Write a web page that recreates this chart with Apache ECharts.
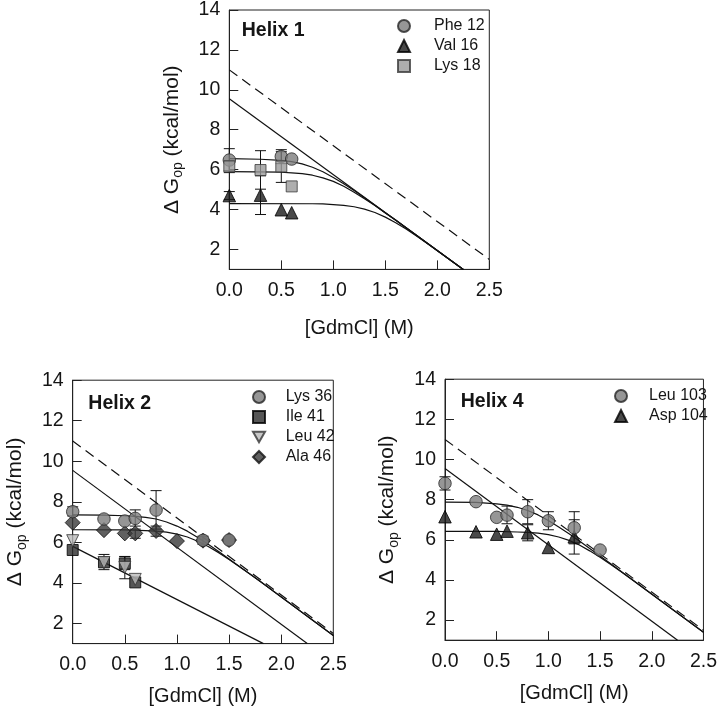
<!DOCTYPE html>
<html><head><meta charset="utf-8">
<script src="https://cdn.jsdelivr.net/npm/echarts@6/dist/echarts.min.js"></script>
<style>html,body{margin:0;padding:0;background:#fff}#c{width:720px;height:714px}</style>
</head><body><div id="c"></div>
<script>
// ---------- data ----------
const xTickInterval = 0.5;
const yTickValues = [2, 4, 6, 8, 10, 12, 14];
const panelTitles = ['Helix 1', 'Helix 2', 'Helix 4'];

// reference lines shared by panels
const lineDashed = [[0, 11.0], [2.5, 1.5]];
const lineGlobal = [[0, 9.55], [2.25, 1.0]];

// Helix 1
const h1_phe12 = [[0, 6.48], [0.5, 6.66], [0.6, 6.53]];
const h1_val16 = [[0, 4.70], [0.3, 4.72], [0.5, 3.99], [0.6, 3.84]];
const h1_lys18 = [[0, 6.16], [0.3, 5.98], [0.5, 6.16], [0.6, 5.16]];
const h1_phe12Err = [[0, 5.95, 7.05], [0.5, 6.30, 7.00]];
const h1_val16Err = [[0, 4.50, 4.90], [0.3, 3.75, 5.69]];
const h1_lys18Err = [[0, 5.85, 6.45], [0.3, 5.02, 6.95], [0.5, 5.36, 6.90]];
const h1_curvePhe = [[0, 6.55], [0.3, 6.52], [0.5, 6.46], [0.6, 6.40], [0.7, 6.29], [0.8, 6.12], [0.9, 5.89], [1.0, 5.61], [1.1, 5.29], [1.2, 4.95], [1.3, 4.59], [1.4, 4.22], [1.5, 3.84], [1.6, 3.47], [2.25, 1.0]];
const h1_curveLys = [[0, 5.90], [0.5, 5.87], [0.6, 5.84], [0.7, 5.80], [0.8, 5.72], [0.9, 5.59], [1.0, 5.41], [1.1, 5.17], [1.2, 4.87], [1.3, 4.54], [1.4, 4.20], [1.5, 3.83], [1.6, 3.46], [2.25, 1.0]];
const h1_curveVal = [[0, 4.30], [0.8, 4.29], [0.9, 4.28], [1.0, 4.25], [1.1, 4.21], [1.2, 4.14], [1.3, 4.02], [1.4, 3.85], [1.5, 3.62], [1.6, 3.34], [1.7, 3.02], [1.8, 2.67], [1.9, 2.31], [2.0, 1.94], [2.25, 1.0]];

// Helix 2
const h2_lys36 = [[0, 7.51], [0.3, 7.15], [0.5, 7.05], [0.6, 7.18], [0.8, 7.59], [1.25, 6.10], [1.5, 6.11]];
const h2_ile41 = [[0, 5.62], [0.3, 5.01], [0.5, 4.96], [0.6, 4.02]];
const h2_leu42 = [[0, 6.08], [0.3, 5.00], [0.5, 4.76], [0.6, 4.17]];
const h2_ala46 = [[0, 6.97], [0.3, 6.60], [0.5, 6.44], [0.6, 6.44], [0.8, 6.56], [1.0, 6.06], [1.25, 6.08], [1.5, 6.11]];
const h2_lys36Err = [[0, 7.30, 7.75], [0.6, 6.80, 7.60], [0.8, 6.65, 8.55]];
const h2_ile41Err = [[0.3, 4.65, 5.40], [0.5, 4.65, 5.30]];
const h2_leu42Err = [[0.5, 4.20, 5.30]];
const h2_ala46Err = [[0.6, 6.20, 6.65], [0.8, 6.30, 6.80], [1.25, 5.90, 6.30]];
const h2_lineLower = [[0, 5.80], [1.83, 1.0]];
const h2_curveLys = [[0, 7.35], [0.3, 7.34], [0.5, 7.31], [0.6, 7.28], [0.7, 7.23], [0.8, 7.15], [0.9, 7.00], [1.0, 6.80], [1.1, 6.55], [1.2, 6.24], [1.3, 5.90], [1.4, 5.55], [1.5, 5.18], [1.6, 4.81], [1.7, 4.44], [1.8, 4.06], [2.5, 1.40]];
const h2_curveAla = [[0, 6.62], [0.5, 6.61], [0.7, 6.58], [0.8, 6.55], [0.9, 6.50], [1.0, 6.40], [1.1, 6.26], [1.2, 6.05], [1.3, 5.79], [1.4, 5.49], [1.5, 5.15], [1.6, 4.79], [1.7, 4.43], [1.8, 4.06], [2.5, 1.40]];

// Helix 4
const h4_leu103 = [[0, 8.81], [0.3, 7.90], [0.5, 7.12], [0.6, 7.23], [0.8, 7.40], [1.0, 6.95], [1.25, 6.60], [1.5, 5.49]];
const h4_asp104 = [[0, 7.15], [0.3, 6.40], [0.5, 6.28], [0.6, 6.43], [0.8, 6.35], [1.0, 5.62], [1.25, 6.15]];
const h4_leu103Err = [[0, 8.48, 9.14], [0.6, 6.80, 7.68], [0.8, 6.80, 8.00], [1.0, 6.50, 7.40], [1.25, 5.80, 7.40]];
const h4_asp104Err = [[0.8, 5.95, 6.75], [1.25, 5.29, 7.00]];
const h4_curveLeu = [[0, 7.88], [0.3, 7.86], [0.5, 7.79], [0.6, 7.73], [0.7, 7.62], [0.8, 7.46], [0.9, 7.24], [1.0, 6.96], [1.1, 6.64], [1.2, 6.30], [1.3, 5.94], [1.4, 5.57], [1.5, 5.19], [1.6, 4.82], [1.8, 4.06], [2.5, 1.40]];
const h4_curveAsp = [[0, 6.42], [0.5, 6.42], [0.7, 6.39], [0.8, 6.37], [0.9, 6.33], [1.0, 6.26], [1.1, 6.14], [1.2, 5.97], [1.3, 5.74], [1.4, 5.45], [1.5, 5.13], [1.6, 4.78], [1.7, 4.42], [1.8, 4.05], [2.5, 1.40]];

// ---------- styling ----------
const FF = "'Liberation Sans', Arial, Helvetica, sans-serif";
const INK = '#151515';
const DOWN_TRI = 'path://M0,0 L20,0 L10,17.3 Z';

const styles = {
  circle:   { symbol: 'circle',   symbolSize: 12.5, itemStyle: { color: '#7c7c7c', borderColor: '#262626', borderWidth: 1 } },
  triangle: { symbol: 'triangle', symbolSize: 12.5, itemStyle: { color: '#1c1c1c', borderColor: '#000', borderWidth: 1 } },
  lightSq:  { symbol: 'rect',     symbolSize: 11, itemStyle: { color: '#9a9a9a', borderColor: '#3a3a3a', borderWidth: 1 } },
  darkSq:   { symbol: 'rect',     symbolSize: 11, itemStyle: { color: '#2c2c2c', borderColor: '#000', borderWidth: 1 } },
  downTri:  { symbol: DOWN_TRI,   symbolSize: 12, itemStyle: { color: '#bababa', borderColor: '#333', borderWidth: 1 } },
  diamond:  { symbol: 'diamond',  symbolSize: 15, itemStyle: { color: '#383838', borderColor: '#111', borderWidth: 1 } }
};

const grids = [
  { left: 229.3, top: 8.1,   width: 260,   height: 261.3 },
  { left: 72.7,  top: 380.2, width: 260.6, height: 263.4 },
  { left: 445,   top: 379.2, width: 260.7, height: 261 }
];

function xAxisFor(gi, nameGap) {
  return {
    type: 'value', gridIndex: gi, min: 0, max: 2.5, interval: xTickInterval,
    name: '[GdmCl] (M)', nameLocation: 'middle', nameGap: nameGap, nameMoveOverlap: false,
    nameTextStyle: { fontSize: 20, color: INK, fontFamily: FF },
    axisLine: { show: true, onZero: false, lineStyle: { color: '#222', width: 1 } },
    axisTick: { show: true, inside: true, length: 9, lineStyle: { color: '#222', width: 1 } },
    axisLabel: { fontSize: 19.5, color: INK, fontFamily: FF, margin: 11, formatter: v => v.toFixed(1) },
    splitLine: { show: false }
  };
}
function yAxisFor(gi, nameGap) {
  return {
    type: 'value', gridIndex: gi, min: 1, max: 14,
    name: '{m|\u0394 G}{s|op}{m| (kcal/mol)}', nameLocation: 'middle', nameGap: nameGap, nameRotate: 90, nameMoveOverlap: false,
    nameTextStyle: { color: INK, fontFamily: FF, fontSize: 21,
      rich: { m: { fontSize: 21, lineHeight: 27, fontFamily: FF, color: INK },
              s: { fontSize: 14, lineHeight: 17, verticalAlign: 'bottom', fontFamily: FF, color: INK } } },
    axisLine: { show: true, onZero: false, lineStyle: { color: '#222', width: 1 } },
    axisTick: { show: true, inside: true, length: 9, customValues: yTickValues, lineStyle: { color: '#222', width: 1 } },
    axisLabel: { fontSize: 19.5, color: INK, fontFamily: FF, margin: 9, customValues: yTickValues },
    splitLine: { show: false }
  };
}

function errRender(params, api) {
  const x = api.value(0), lo = api.value(1), hi = api.value(2);
  const p1 = api.coord([x, lo]), p2 = api.coord([x, hi]);
  const w = 5.5;
  const st = { stroke: '#111', lineWidth: 1 };
  return { type: 'group', children: [
    { type: 'line', shape: { x1: p1[0], y1: p1[1], x2: p2[0], y2: p2[1] }, style: st },
    { type: 'line', shape: { x1: p1[0] - w, y1: p1[1], x2: p1[0] + w, y2: p1[1] }, style: st },
    { type: 'line', shape: { x1: p2[0] - w, y1: p2[1], x2: p2[0] + w, y2: p2[1] }, style: st }
  ]};
}

const series = [];
function addLine(gi, data, dashed) {
  series.push({
    type: 'line', xAxisIndex: gi, yAxisIndex: gi, data: data, showSymbol: false, silent: true,
    smooth: false, clip: true, z: 2,
    lineStyle: { color: '#111', width: 1.2, type: dashed ? [10, 6] : 'solid', join: 'round' }
  });
}
function addErr(gi, data) {
  series.push({ type: 'custom', xAxisIndex: gi, yAxisIndex: gi, data: data, renderItem: errRender,
    encode: { x: 0, y: [1, 2] }, silent: true, z: 3 });
}
function addPts(gi, name, data, st) {
  series.push(Object.assign({ type: 'scatter', name: name, xAxisIndex: gi, yAxisIndex: gi, data: data, z: 5 }, st));
}

// Helix 1
addLine(0, lineDashed, true);
addLine(0, lineGlobal, false);
addLine(0, h1_curvePhe, false);
addLine(0, h1_curveLys, false);
addLine(0, h1_curveVal, false);
addErr(0, h1_phe12Err); addErr(0, h1_val16Err); addErr(0, h1_lys18Err);
addPts(0, 'Phe 12', h1_phe12, styles.circle);
addPts(0, 'Val 16', h1_val16, styles.triangle);
addPts(0, 'Lys 18', h1_lys18, styles.lightSq);

// Helix 2
addLine(1, lineDashed, true);
addLine(1, lineGlobal, false);
addLine(1, h2_lineLower, false);
addLine(1, h2_curveLys, false);
addLine(1, h2_curveAla, false);
addErr(1, h2_lys36Err); addErr(1, h2_ile41Err); addErr(1, h2_leu42Err); addErr(1, h2_ala46Err);
addPts(1, 'Ile 41', h2_ile41, styles.darkSq);
addPts(1, 'Leu 42', h2_leu42, styles.downTri);
addPts(1, 'Ala 46', h2_ala46, styles.diamond);
addPts(1, 'Lys 36', h2_lys36, styles.circle);

// Helix 4
addLine(2, lineDashed, true);
addLine(2, lineGlobal, false);
addLine(2, h4_curveLeu, false);
addLine(2, h4_curveAsp, false);
addErr(2, h4_leu103Err); addErr(2, h4_asp104Err);
addPts(2, 'Asp 104', h4_asp104, styles.triangle);
addPts(2, 'Leu 103', h4_leu103, styles.circle);

function legendFor(names, left, top, pad) {
  return {
    show: true, orient: 'vertical', left: left, top: top, data: names, selectedMode: false,
    itemWidth: 12, itemHeight: 12, itemGap: 4, padding: 0,
    textStyle: { fontSize: 16, lineHeight: 16, color: INK, fontFamily: FF, padding: [0, 0, 0, pad] }
  };
}
function titleFor(text, left, top) {
  return { text: text, left: left, top: top, padding: 0,
    textStyle: { fontSize: 19.5, lineHeight: 20, fontWeight: 'bold', color: INK, fontFamily: FF } };
}

const chart = echarts.init(document.getElementById('c'), null, { renderer: 'canvas' });
chart.setOption({
  backgroundColor: '#fff',
  animation: false,
  title: [
    titleFor(panelTitles[0], 241.7, 21),
    titleFor(panelTitles[1], 88.3, 394),
    titleFor(panelTitles[2], 460.7, 391.7)
  ],
  legend: [
    legendFor(['Phe 12', 'Val 16', 'Lys 18'], 397, 18, 19),
    legendFor(['Lys 36', 'Ile 41', 'Leu 42', 'Ala 46'], 252, 389, 15.7),
    legendFor(['Leu 103', 'Asp 104'], 614, 388, 17)
  ],
  grid: grids.map(g => Object.assign({ show: true, borderColor: '#222', borderWidth: 1, backgroundColor: 'transparent', containLabel: false }, g)),
  xAxis: [xAxisFor(0, 49), xAxisFor(1, 43), xAxisFor(2, 43)],
  yAxis: [yAxisFor(0, 44), yAxisFor(1, 44), yAxisFor(2, 44)],
  series: series
});
</script></body></html>
